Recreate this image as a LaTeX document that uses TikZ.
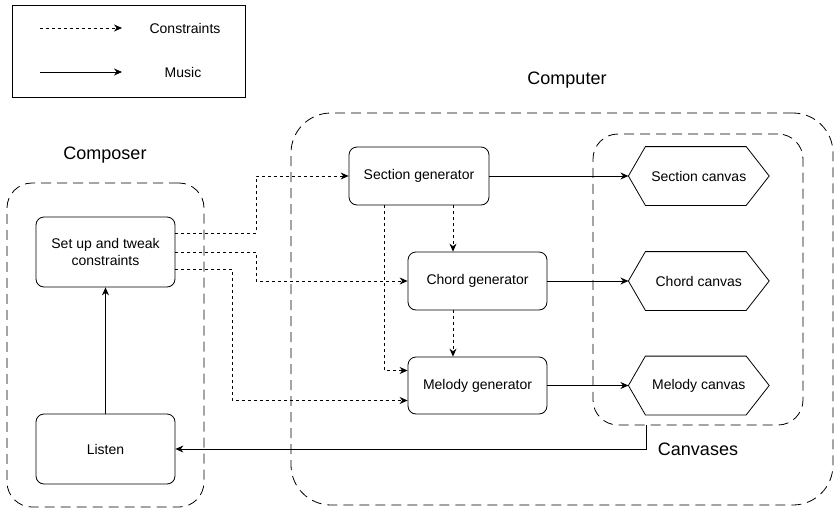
\documentclass[tikz,border=0pt]{standalone}
\usepackage{fontspec}
\setmainfont{Liberation Sans}
\usetikzlibrary{arrows.meta, positioning}

\begin{document}
\begin{tikzpicture}[
        x=1pt, y=-1pt,
        font=\fontsize{14}{17}\selectfont,
        line width=0.8pt,
        box/.style={draw, rectangle, align=center, rounded corners=8pt, minimum width=139pt},
        canvas/.style={rectangle, align=center, minimum width=140pt, minimum height=58pt},
        group/.style={draw, rectangle, dash pattern=on 10pt off 6pt, rounded corners=25pt},
        title/.style={font=\fontsize{18}{21}\selectfont},
        music/.style={-{Stealth[length=8pt, width=7pt]}},
        constraint/.style={dash pattern=on 3pt off 3pt, -{Stealth[length=8pt, width=7pt]}},
    ]
        \useasboundingbox (0,0) rectangle (836,509);

        % legend
        \node[draw, minimum width=233pt, minimum height=92pt] (legend) at (128.5,51) {};
        \coordinate (cfrom) at (40,28);
        \coordinate (cto) at (122,28);
        \coordinate (mfrom) at (40,72);
        \coordinate (mto) at (122,72);
        \node (clabel) at (185,28) {Constraints};
        \node (mlabel) at (183,72) {Music};
        \draw[constraint] (cfrom) -- (cto);
        \draw[music] (mfrom) -- (mto);

        % groups
        \node[group, minimum width=197pt, minimum height=324pt] (composer) at (105.5,345) {};
        \node[group, rounded corners=40pt, minimum width=542pt, minimum height=392pt] (computer) at (562,309) {};
        \node[group, minimum width=210pt, minimum height=291pt] (canvases) at (698,279.5) {};
        \node[title] (composerlabel) at (105,155) {Composer};
        \node[title] (computerlabel) at (567,80) {Computer};
        \node[title] (canvaseslabel) at (698,449) {Canvases};

        % composer side
        \node[box, minimum height=70pt] (setup) at (105.5,252) {Set up and tweak\\constraints};
        \node[box, minimum height=70pt] (listen) at (105.5,449) {Listen};

        % generators
        \node[box, minimum width=140pt, minimum height=58pt] (section) at (419,176) {Section generator};
        \node[box, minimum height=58pt] (chord) at (477.5,281) {Chord generator};
        \node[box, minimum height=57pt] (melody) at (477.5,385.5) {Melody generator};

        % canvases
        \node[canvas, right=139pt of section] (sectioncanvas) {Section canvas};
        \node[canvas, right=81pt of chord] (chordcanvas) {Chord canvas};
        \node[canvas, right=81pt of melody] (melodycanvas) {Melody canvas};
        \foreach \c in {sectioncanvas, chordcanvas, melodycanvas}
            \draw (\c.west) -- ([xshift=17pt]\c.north west) -- ([xshift=-23pt]\c.north east)
                -- (\c.east) -- ([xshift=-23pt]\c.south east) -- ([xshift=17pt]\c.south west) -- cycle;

        % constraints
        \draw[constraint] ([yshift=19pt]setup.east) -- ++(81,0) |- (section.west);
        \draw[constraint] (setup.east) -- ++(81,0) |- (chord.west);
        \draw[constraint] ([yshift=-17pt]setup.east) -- ++(57,0) |- ([yshift=-15pt]melody.west);
        \draw[constraint] ([xshift=-35pt]section.south) |- ([yshift=15pt]melody.west);
        \draw[constraint] ([xshift=34pt]section.south) -- ([xshift=-24.5pt]chord.north);
        \draw[constraint] ([xshift=-24.5pt]chord.south) -- ([xshift=-24.5pt]melody.north);

        % music
        \draw[music] (section) -- (sectioncanvas);
        \draw[music] (chord) -- (chordcanvas);
        \draw[music] (melody) -- (melodycanvas);
        \draw[music] ([xshift=-52pt]canvases.south) |- (listen.east);
        \draw[music] (listen) -- (setup);
\end{tikzpicture}
\end{document}
